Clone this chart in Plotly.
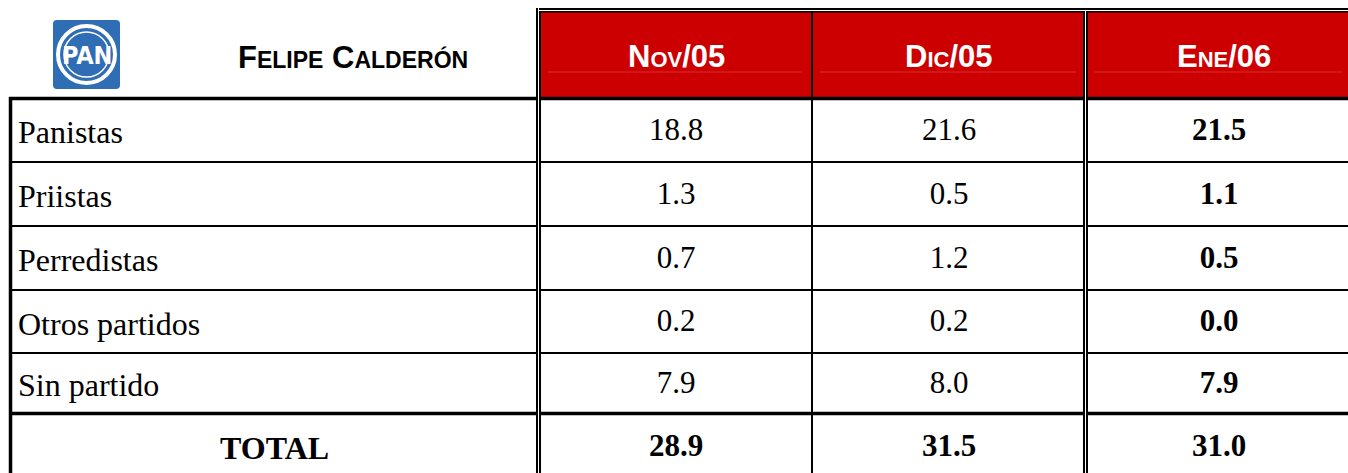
import plotly.graph_objects as go

W, H = 1348, 473

candidate = "Felipe Calderón"
months = ["Nov/05", "Dic/05", "Ene/06"]
groups = ["Panistas", "Priistas", "Perredistas", "Otros partidos", "Sin partido"]
nov = [18.8, 1.3, 0.7, 0.2, 7.9]
dic = [21.6, 0.5, 1.2, 0.2, 8.0]
ene = [21.5, 1.1, 0.5, 0.0, 7.9]
total_label = "TOTAL"
totals = [28.9, 31.5, 31.0]

# table geometry in pixels (y grows downwards)
col_edges = [11, 540, 812, 1086, 1352]
row_edges = [12, 98, 162, 226, 290, 353, 413, 475]

RED = "#CC0000"
BLUE = "#2F6DB5"
SERIF = "Liberation Serif, Times New Roman, serif"
SANS = "Liberation Sans, Arial, sans-serif"


def small_caps(text, small):
    # lowercase letters -> uppercase at the smaller size
    out, run = "", ""
    for ch in text:
        if ch.islower():
            run += ch.upper()
        else:
            if run:
                out += f'<span style="font-size:{small}px">{run}</span>'
                run = ""
            out += ch
    if run:
        out += f'<span style="font-size:{small}px">{run}</span>'
    return "<b>" + out + "</b>"


def centers(edges):
    return [(a + b) / 2 for a, b in zip(edges[:-1], edges[1:])]


col_mid = centers(col_edges)
row_mid = centers(row_edges)

fig = go.Figure()

# value cells
columns = [nov, dic, ene]
xs, ys, texts = [], [], []
for j, vals in enumerate(columns):
    for i, v in enumerate(vals):
        xs.append(col_mid[j + 1])
        ys.append(row_mid[i + 1] + 2)
        t = f"{v:.1f}"
        texts.append(f"<b>{t}</b>" if j == len(columns) - 1 else t)
    xs.append(col_mid[j + 1])
    ys.append(row_mid[len(groups) + 1] + 4)
    texts.append(f"<b>{totals[j]:.1f}</b>")

fig.add_trace(go.Scatter(
    x=xs, y=ys, text=texts, mode="text",
    textposition="middle center",
    textfont=dict(family=SERIF, size=31, color="black"),
    hoverinfo="skip", cliponaxis=False,
))

shapes = []


def hline(y, x0, x1, w, color="black"):
    shapes.append(dict(type="line", x0=x0, x1=x1, y0=y, y1=y,
                       line=dict(color=color, width=w)))


def vline(x, y0, y1, w, color="black"):
    shapes.append(dict(type="line", x0=x, x1=x, y0=y0, y1=y1,
                       line=dict(color=color, width=w)))


# red header block
shapes.append(dict(type="rect", x0=col_edges[1], x1=W + 5, y0=row_edges[0], y1=row_edges[1],
                   fillcolor=RED, line=dict(width=0)))
# faint underline inside header cells
for j in range(1, 4):
    hline(72, col_edges[j] + 8, col_edges[j + 1] - 10, 1, "#D82C2C")

# row rules
hline(98.5, 9, W + 5, 3.5)
for y in row_edges[2:6]:
    hline(y, 9, W + 5, 2)
hline(413.5, 9, W + 5, 3.5)

# top double rule over the header
hline(9, 536, W + 5, 2)
hline(11.8, 539, W + 5, 1.5)

# white gaps of the double verticals
vline(538.5, 8, H + 5, 1, "white")
vline(1085.5, 11, H + 5, 1, "white")

# verticals
vline(10.5, 97, H + 5, 3.5)
vline(537, 8, H + 5, 2)
vline(540, 11, H + 5, 2)
vline(812, 12, H + 5, 2)
vline(1084, 11, H + 5, 2)
vline(1087, 11, H + 5, 2)

# PAN logo
shapes.append(dict(type="path",
                   path="M 57,20 L 116,20 Q 120,20 120,24 L 120,85 Q 120,89 116,89 "
                        "L 57,89 Q 53,89 53,85 L 53,24 Q 53,20 57,20 Z",
                   fillcolor=BLUE, line=dict(width=0)))
shapes.append(dict(type="circle", x0=58, x1=115, y0=26, y1=83,
                   line=dict(color="white", width=4)))
shapes.append(dict(type="circle", x0=64, x1=109, y0=32, y1=77,
                   line=dict(color="white", width=1.5)))

annotations = []
annotations.append(dict(x=86.5, y=55.5, text="<b>PAN</b>", showarrow=False,
                        xanchor="center", yanchor="middle",
                        font=dict(family="Liberation Sans Narrow, DejaVu Sans Condensed, sans-serif",
                                  size=25, color="white")))
annotations.append(dict(x=353, y=57, text=small_caps(candidate, 23), showarrow=False,
                        xanchor="center", yanchor="middle",
                        font=dict(family=SANS, size=31, color="black")))
for j, m in enumerate(months):
    annotations.append(dict(x=col_mid[j + 1] + (5 if j == 2 else 0), y=56,
                            text=small_caps(m, 22), showarrow=False,
                            xanchor="center", yanchor="middle",
                            font=dict(family=SANS, size=31, color="white")))
for i, g in enumerate(groups):
    annotations.append(dict(x=16, y=row_mid[i + 1] + 2, text=g, showarrow=False,
                            xanchor="left", yanchor="middle",
                            font=dict(family=SERIF, size=32, color="black")))
annotations.append(dict(x=col_mid[0] - 1, y=row_mid[len(groups) + 1] + 4, text=f"<b>{total_label}</b>",
                        showarrow=False, xanchor="center", yanchor="middle",
                        font=dict(family=SERIF, size=32, color="black")))

fig.update_layout(
    width=W, height=H,
    margin=dict(l=0, r=0, t=0, b=0),
    paper_bgcolor="white", plot_bgcolor="white",
    xaxis=dict(range=[0, W], visible=False, fixedrange=True),
    yaxis=dict(range=[H, 0], visible=False, fixedrange=True),
    showlegend=False,
    shapes=shapes,
    annotations=annotations,
)

fig.write_html("out.html", config={"displayModeBar": False},
               post_script="document.body.style.margin='0';document.body.style.overflow='hidden';")
